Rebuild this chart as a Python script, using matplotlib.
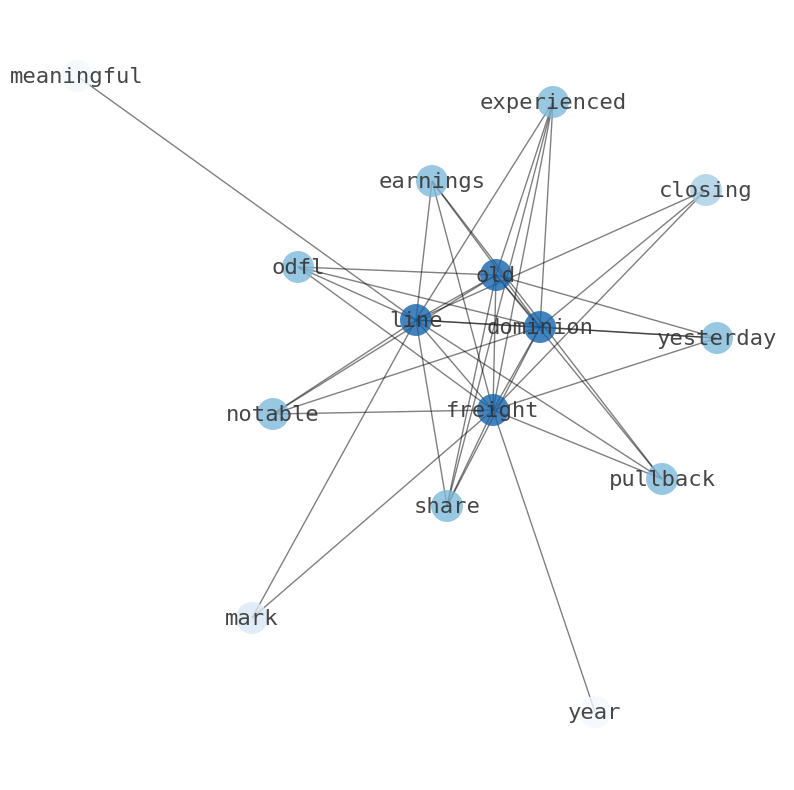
import matplotlib
matplotlib.use("Agg")
import matplotlib.pyplot as plt
from matplotlib.collections import LineCollection

# node layout (figure pixel space, y downward)
NODES = ["meaningful", "experienced", "earnings", "closing", "odfl", "old",
         "line", "dominion", "yesterday", "notable", "freight", "pullback",
         "share", "mark", "year"]
POS_X = [77, 553, 432, 706, 298, 496, 416, 540, 717, 273, 493, 662, 447, 252, 595]
POS_Y = [76, 102, 181, 190, 267, 275, 320, 327, 338, 414, 410, 479, 506, 618, 712]
# colour value per node (Blues colormap)
NODE_VAL = [0.02, 0.45, 0.45, 0.35, 0.45, 0.8, 0.8, 0.8, 0.45, 0.45, 0.8,
            0.45, 0.45, 0.15, 0.02]

EDGES = [
    ("meaningful", "line"),
    ("year", "freight"),
    ("mark", "line"), ("mark", "freight"),
    ("closing", "line"), ("closing", "dominion"), ("closing", "freight"),
    ("experienced", "line"), ("experienced", "old"), ("experienced", "freight"),
    ("experienced", "dominion"), ("experienced", "share"),
    ("earnings", "line"), ("earnings", "freight"), ("earnings", "dominion"),
    ("earnings", "pullback"),
    ("odfl", "old"), ("odfl", "dominion"), ("odfl", "line"), ("odfl", "freight"),
    ("notable", "freight"), ("notable", "line"), ("notable", "old"),
    ("notable", "dominion"),
    ("yesterday", "old"), ("yesterday", "line"), ("yesterday", "dominion"),
    ("yesterday", "freight"),
    ("pullback", "line"), ("pullback", "freight"), ("pullback", "old"),
    ("share", "line"), ("share", "old"), ("share", "freight"), ("share", "dominion"),
    ("line", "old"), ("line", "dominion"), ("line", "freight"),
    ("old", "dominion"), ("old", "freight"),
    ("dominion", "freight"),
]

pos = {n: (x, y) for n, x, y in zip(NODES, POS_X, POS_Y)}

fig = plt.figure(figsize=(7.94, 7.90), dpi=100)
ax = fig.add_axes([0, 0, 1, 1])
ax.set_xlim(0, 794)
ax.set_ylim(790, 0)
ax.axis("off")

segs = [[pos[a], pos[b]] for a, b in EDGES]
ax.add_collection(LineCollection(segs, colors="black", linewidths=1.0,
                                 alpha=0.5, zorder=1))

ax.scatter(POS_X, POS_Y, s=530, c=NODE_VAL, cmap="Blues", vmin=0, vmax=1,
           alpha=0.8, edgecolors="none", zorder=2)

for n, x, y in zip(NODES, POS_X, POS_Y):
    ax.text(x, y + 1, n, fontsize=16, family="DejaVu Sans Mono", color="#333333",
            alpha=0.9, ha="center", va="center", zorder=3)

fig.savefig("out.png", dpi=100)
